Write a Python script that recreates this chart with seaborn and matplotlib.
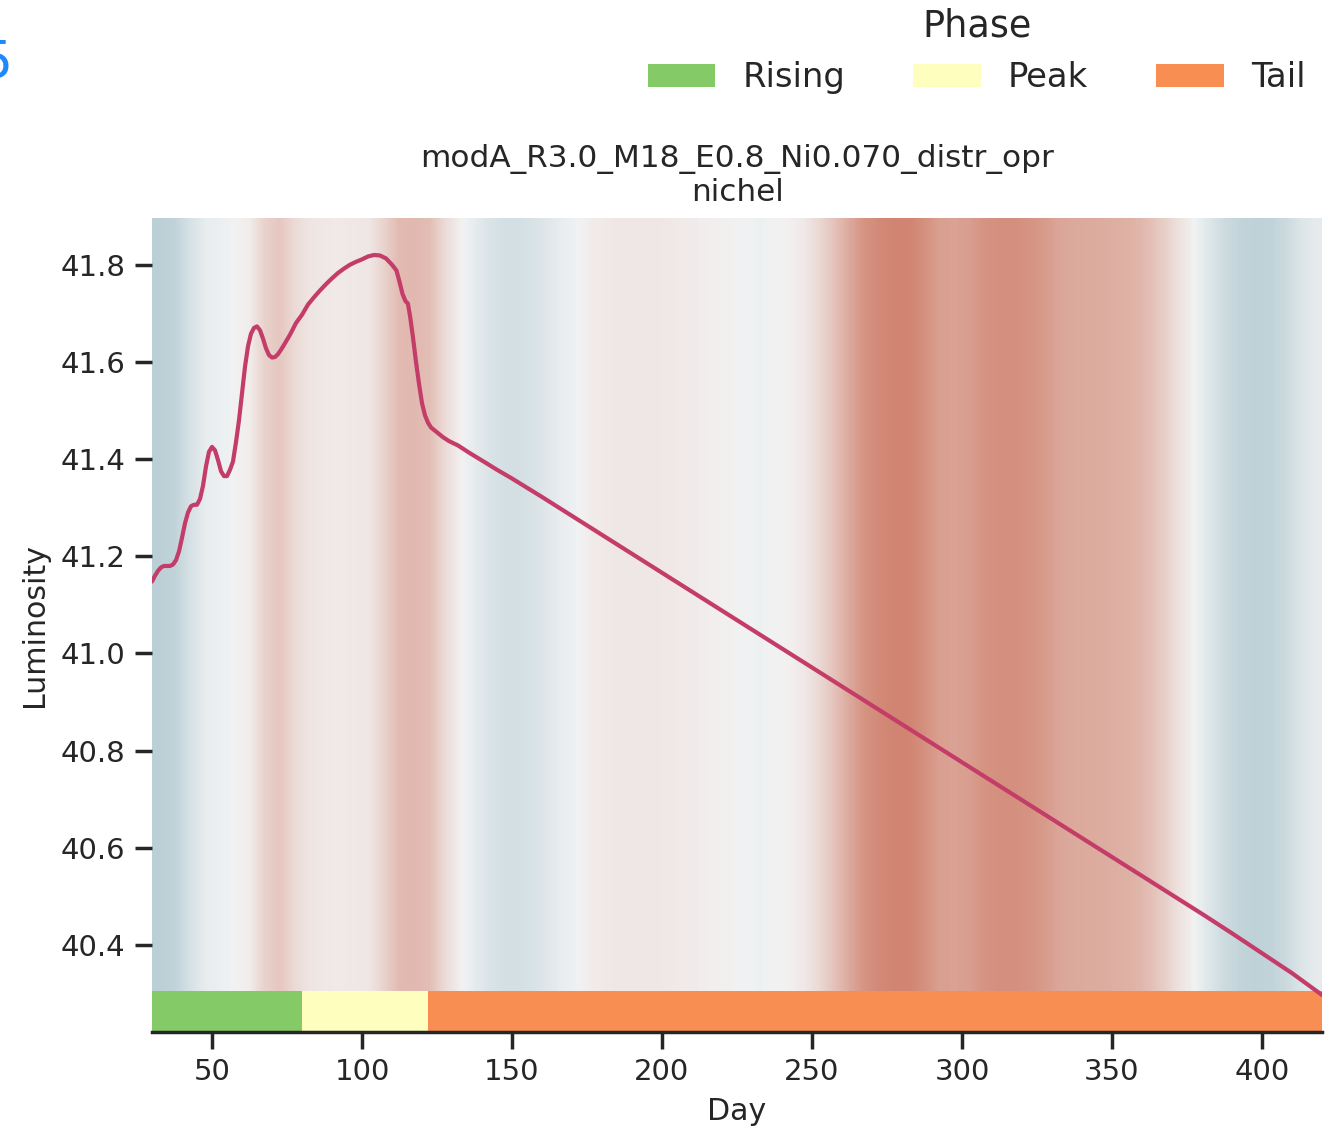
import numpy as np
import pandas as pd
import seaborn as sns
import matplotlib.pyplot as plt
from matplotlib.patches import Patch

# ---------------- data ----------------
days = [30, 31, 32, 33, 34, 35, 36, 37, 38, 39, 40, 41, 42, 43, 44, 45, 46, 47, 48, 49,
        50, 51, 52, 53, 54, 55, 56, 57, 58, 59, 60, 61, 62, 63, 64, 65, 66, 67, 68, 69,
        70, 71, 72, 73, 74, 76, 78, 80, 82, 84, 86, 88, 90, 92, 94, 96, 98, 100, 102, 104,
        106, 108, 110, 111.5, 112.5, 113.5, 114.5, 115.3, 116, 117, 118, 119, 120, 121, 122,
        123, 125, 127, 129, 132, 136, 140, 145, 150, 155, 160, 170, 180, 190, 200, 210, 220,
        230, 240, 250, 260, 270, 280, 290, 300, 310, 320, 330, 340, 350, 360, 370, 380, 390,
        400, 410, 420]
luminosity = [41.148, 41.160, 41.170, 41.177, 41.180, 41.180, 41.180, 41.183, 41.192, 41.210,
              41.238, 41.268, 41.290, 41.303, 41.306, 41.306, 41.318, 41.345, 41.385, 41.415,
              41.425, 41.418, 41.398, 41.375, 41.365, 41.365, 41.378, 41.395, 41.435, 41.480,
              41.535, 41.590, 41.632, 41.658, 41.670, 41.673, 41.665, 41.648, 41.628, 41.614,
              41.609, 41.610, 41.616, 41.625, 41.635, 41.656, 41.680, 41.697, 41.718, 41.733,
              41.747, 41.760, 41.772, 41.783, 41.792, 41.800, 41.806, 41.811, 41.817, 41.820,
              41.819, 41.813, 41.800, 41.788, 41.765, 41.740, 41.725, 41.720, 41.695, 41.650,
              41.600, 41.555, 41.515, 41.490, 41.475, 41.465, 41.455, 41.445, 41.437, 41.428,
              41.412, 41.397, 41.378, 41.360, 41.341, 41.322, 41.283, 41.244, 41.205, 41.166,
              41.127, 41.088, 41.049, 41.010, 40.971, 40.932, 40.893, 40.854, 40.815, 40.776,
              40.737, 40.698, 40.659, 40.620, 40.581, 40.542, 40.503, 40.464, 40.424, 40.383,
              40.342, 40.297]

# background signal, one value per 5-day cell from day 30 to 420 (positive = red, negative = blue)
bg_signal = [-0.30, -0.27, -0.15, -0.05, -0.02, 0.00, 0.03, 0.20, 0.27, 0.15,
             0.08, 0.06, 0.05, 0.06, 0.07, 0.20, 0.35, 0.36, 0.33, 0.15,
             0.02, -0.05, -0.12, -0.16, -0.16, -0.13, -0.08, -0.03, 0.00, 0.04,
             0.06, 0.07, 0.07, 0.065, 0.06, 0.04, 0.03, 0.02, 0.01, 0.00,
             -0.01, 0.00, 0.01, 0.06, 0.16, 0.30, 0.46, 0.60, 0.66, 0.69,
             0.69, 0.62, 0.52, 0.50, 0.53, 0.60, 0.62, 0.62, 0.60, 0.55,
             0.48, 0.46, 0.45, 0.44, 0.42, 0.40, 0.33, 0.22, 0.10, 0.00,
             -0.10, -0.20, -0.25, -0.28, -0.27, -0.22, -0.12, -0.06]

phase_names = ["Rising", "Peak", "Tail"]
phase_start = [30, 80, 122]
phase_end = [80, 122, 420]

title = "modA_R3.0_M18_E0.8_Ni0.070_distr_opr\nnichel"

# ---------------- style ----------------
sns.set_theme(context="notebook", style="ticks")
plt.rcParams["font.family"] = ["DejaVu Sans"]

pal = sns.color_palette("RdYlGn", 3)
phase_colors = {"Rising": pal[2], "Peak": pal[1], "Tail": pal[0]}
cmap = sns.diverging_palette(220, 20, as_cmap=True)
line_color = "#c43c68"

fig = plt.figure(figsize=(6.66, 5.65), dpi=200)
ax = fig.add_axes([152 / 1332, 1 - 1032 / 1130, 1170 / 1332, 814 / 1130])

xmin, xmax = 30, 420
lo, hi = min(luminosity), max(luminosity)
rng = hi - lo
ymin, ymax = lo - 0.05 * rng, hi + 0.05 * rng

ax.imshow(np.array(bg_signal)[None, :], cmap=cmap, vmin=-1, vmax=1, aspect="auto",
          extent=[xmin, xmax, ymin, ymax], interpolation="bilinear", zorder=0)

df = pd.DataFrame({"Day": days, "Luminosity": luminosity})
sns.lineplot(data=df, x="Day", y="Luminosity", ax=ax, color=line_color, lw=1.5, zorder=3)

for name, s, e in zip(phase_names, phase_start, phase_end):
    ax.axvspan(s, e, ymin=0, ymax=0.05, color=phase_colors[name], lw=0, zorder=2)

ax.set_xlim(xmin, xmax)
ax.set_ylim(ymin, ymax)
ax.set_xticks([50, 100, 150, 200, 250, 300, 350, 400])
ax.set_yticks([40.4, 40.6, 40.8, 41.0, 41.2, 41.4, 41.6, 41.8])
ax.set_yticklabels([f"{v:.1f}" for v in ax.get_yticks()])
ax.tick_params(labelsize=10.5)
ax.set_xlabel("Day", fontsize=10.8)
ax.set_ylabel("Luminosity", fontsize=10.8)
ax.set_title(title, fontsize=11.2)
sns.despine(ax=ax, left=True)

handles = [Patch(facecolor=phase_colors[n], edgecolor="none", label=n) for n in phase_names]
fig.legend(handles=handles, loc="upper right", bbox_to_anchor=(1336 / 1332, 1 + 23 / 1130), ncol=3,
           title="Phase", frameon=False, fontsize=12.2, title_fontsize=13.2)

fig.text(13 / 1332, 1 - 64 / 1130, "5", ha="right", va="center", fontsize=18.7, color="#1e88ff")

fig.savefig("out.png", dpi=200)
